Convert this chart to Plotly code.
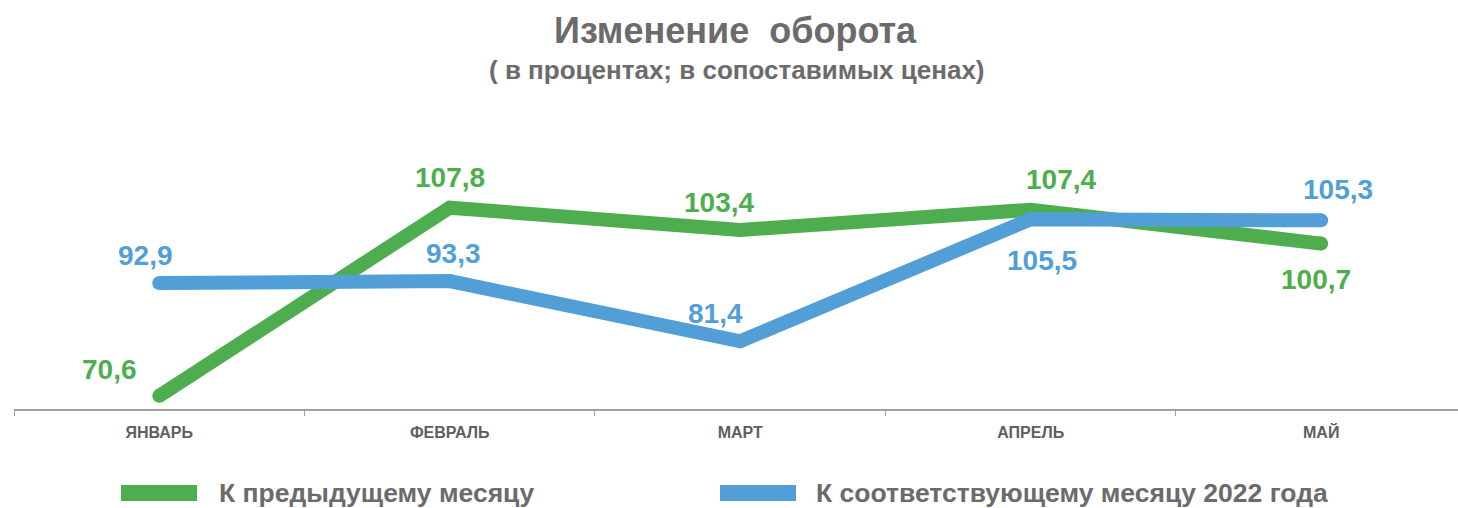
import plotly.graph_objects as go

# data
months = ['ЯНВАРЬ', 'ФЕВРАЛЬ', 'МАРТ', 'АПРЕЛЬ', 'МАЙ']
prev_month = [70.6, 107.8, 103.4, 107.4, 100.7]
same_month_2022 = [92.9, 93.3, 81.4, 105.5, 105.3]
series_names = ['К предыдущему месяцу', 'К соответствующему месяцу 2022 года']

GREEN = '#4EAE4F'
BLUE = '#529FD8'
GRAY = '#6B6B6B'
FONT = 'Liberation Sans, Arial, sans-serif'

# pixel layout of the page
W, H = 1458, 508
L, R, T, B = 14, 0, 146, 99
plot_w = W - L - R
plot_h = H - T - B


def px(x):
    return (x - L) / plot_w


def py(y):
    return (H - B - y) / plot_h


def fmt(v):
    return f'{v:.1f}'.replace('.', ',')


# label offsets (x, y) in pixels for each point
green_shift = [(-50, 26), (0, 30), (-21, 27), (30, 30), (-5, -36)]
blue_shift = [(-14, 28), (4, 28), (-25, 28), (11, -41), (17, 31)]

fig = go.Figure()
for vals, color in ((prev_month, GREEN), (same_month_2022, BLUE)):
    fig.add_trace(go.Scatter(x=months, y=vals, mode='lines+markers',
                             line=dict(color=color, width=14),
                             marker=dict(color=color, size=14),
                             hoverinfo='skip', showlegend=False))

annotations = []
for vals, color, shifts in ((prev_month, GREEN, green_shift),
                            (same_month_2022, BLUE, blue_shift)):
    for m, v, (dx, dy) in zip(months, vals, shifts):
        annotations.append(dict(x=m, y=v, text=fmt(v), showarrow=False,
                                xshift=dx, yshift=dy,
                                xanchor='center', yanchor='middle',
                                font=dict(family=FONT, size=28, color=color, weight='bold')))

# title and subtitle
annotations.append(dict(xref='paper', yref='paper', x=px(735), y=py(30),
                        xanchor='center', yanchor='middle',
                        text='Изменение\u00a0 оборота', showarrow=False,
                        font=dict(family=FONT, size=36, color=GRAY, weight='bold')))
annotations.append(dict(xref='paper', yref='paper', x=px(737), y=py(70),
                        xanchor='center', yanchor='middle',
                        text='( в процентах; в сопоставимых ценах)', showarrow=False,
                        font=dict(family=FONT, size=26, color=GRAY, weight='bold')))

# hand-made legend
shapes = []
for name, color, x0, x1, tx in ((series_names[0], GREEN, 121, 197, 217),
                                (series_names[1], BLUE, 720, 796, 814)):
    shapes.append(dict(type='rect', xref='paper', yref='paper',
                       x0=px(x0), x1=px(x1), y0=py(501), y1=py(485),
                       fillcolor=color, line=dict(width=0)))
    annotations.append(dict(xref='paper', yref='paper', x=px(tx), y=py(493),
                            xanchor='left', yanchor='middle', text=name, showarrow=False,
                            font=dict(family=FONT, size=26.5, color=GRAY, weight='bold')))

fig.update_layout(
    width=W, height=H,
    margin=dict(l=L, r=R, t=T, b=B),
    paper_bgcolor='white', plot_bgcolor='white',
    annotations=annotations, shapes=shapes,
    xaxis=dict(type='category', range=[-0.5, 4.471], showline=True,
               linecolor='#A0A0A0', linewidth=1.5, showgrid=False, zeroline=False,
               ticks='outside', tickson='boundaries', ticklen=5, tickcolor='#A0A0A0',
               tickfont=dict(family=FONT, size=16, color='#5E5E5E', weight='bold'),
               ticklabelstandoff=8),
    yaxis=dict(range=[68, 120], visible=False),
)

# drop the page's default body margin so the figure sits at the window corner
fig.write_html('out.html', config={'displayModeBar': False},
               post_script="document.body.style.margin='0';")
